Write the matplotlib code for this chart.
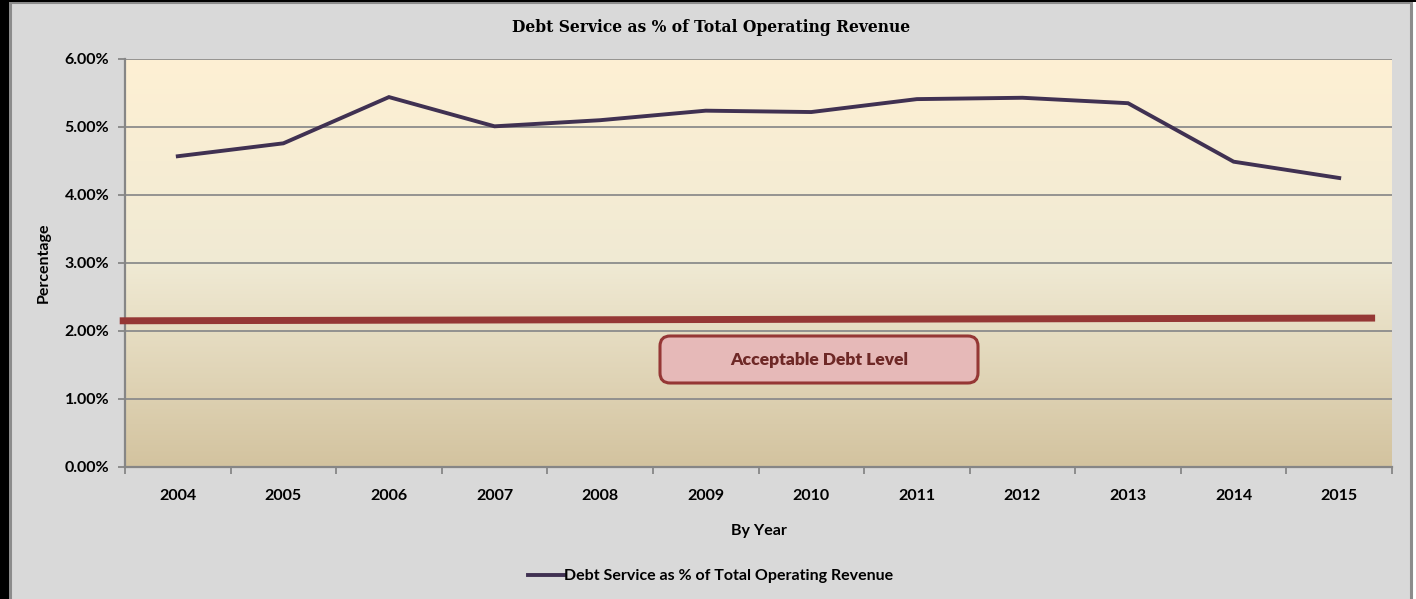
import numpy as np
import matplotlib
matplotlib.use("Agg")
import matplotlib.pyplot as plt
from matplotlib.patches import Rectangle, FancyBboxPatch
from matplotlib.colors import LinearSegmentedColormap
from matplotlib.ticker import FixedLocator, PercentFormatter

YEARS = ["2004", "2005", "2006", "2007", "2008", "2009",
         "2010", "2011", "2012", "2013", "2014", "2015"]
DEBT_PCT = [4.57, 4.76, 5.44, 5.01, 5.10, 5.24,
            5.22, 5.41, 5.43, 5.35, 4.49, 4.25]
# hand-drawn "acceptable" reference line (start, end) in category units / percent
LIMIT_X = [-0.55, 11.34]
LIMIT_Y = [2.15, 2.19]

SANS = ["Lato", "DejaVu Sans"]
plt.rcParams.update({"font.family": SANS, "font.weight": "bold"})

W, H = 1416, 599
fig = plt.figure(figsize=(W / 100, H / 100), dpi=100, facecolor="white")

# chart frame
fig.patches.append(Rectangle((10 / W, -0.01), 1401 / W, 1 - 1.5 / H + 0.01,
                             transform=fig.transFigure, facecolor="#D9D9D9",
                             edgecolor="#8C8C8C", lw=2.2, zorder=-2))
fig.patches.append(Rectangle((0, 0), 9 / W, 1, transform=fig.transFigure,
                             facecolor="black", lw=0, zorder=-1))
fig.patches.append(Rectangle((0, 1 - 2 / H), 1, 2 / H, transform=fig.transFigure,
                             facecolor="black", lw=0, zorder=-1))

L, R, T, B = 125, 1392, 59, 467
ax = fig.add_axes([L / W, 1 - B / H, (R - L) / W, (B - T) / H])
ax.set_zorder(2)
ax.set_facecolor("none")

# vertical gradient fill of the plot area
grad = LinearSegmentedColormap.from_list(
    "bg", [(0.0, "#D3C39F"), (0.5, "#F0EAD4"), (1.0, "#FEF0D3")])
ax.imshow(np.linspace(0, 1, 256).reshape(-1, 1), cmap=grad, aspect="auto",
          origin="lower", extent=(0, 1, 0, 1), transform=ax.transAxes, zorder=0)

x = np.arange(len(YEARS))
ax.set_xlim(-0.5, len(YEARS) - 0.5)
ax.set_ylim(0, 6)
ax.yaxis.set_major_locator(FixedLocator(range(7)))
ax.yaxis.set_major_formatter(PercentFormatter(decimals=2))
ax.grid(axis="y", color="#8C8C8C", lw=1.3, zorder=1)
ax.set_axisbelow(True)

ax.plot(x, DEBT_PCT, color="#403152", lw=2.8, solid_joinstyle="miter", zorder=4)
ax.plot(LIMIT_X, LIMIT_Y, color="#953735", lw=5, solid_capstyle="butt",
        clip_on=False, zorder=3)

# label box
bx, bw = (660 - L) / (R - L), 318 / (R - L)
by, bh = (B - 383) / (B - T), 47 / (B - T)
ax.add_patch(FancyBboxPatch((bx, by), bw, bh, transform=ax.transAxes,
                            boxstyle="round,pad=0,rounding_size=0.008",
                            mutation_aspect=(R - L) / (B - T),
                            facecolor="#E6B9B8", edgecolor="#953735",
                            lw=2.2, zorder=5))
ax.text(bx + bw / 2, by + bh / 2, "Acceptable Debt Level", transform=ax.transAxes,
        ha="center", va="center", fontsize=12.6, color="#6E2826",
        fontweight="heavy", zorder=6)

for s in ["top", "right"]:
    ax.spines[s].set_visible(False)
for s in ["left", "bottom"]:
    ax.spines[s].set_color("#868686")
    ax.spines[s].set_linewidth(1.6)

ax.set_xticks(np.arange(-0.5, len(YEARS)))
ax.set_xticklabels([])
ax.set_xticks(x, minor=True)
ax.set_xticklabels(YEARS, minor=True)
ax.tick_params(axis="x", which="major", length=5, width=1.3, color="#868686")
ax.tick_params(axis="x", which="minor", length=0, pad=16, labelsize=11.5)
ax.tick_params(axis="y", length=5, width=1.3, color="#868686", labelsize=11.5,
               pad=6.4)

ax.set_xlabel("By Year", fontsize=11.5, fontweight="bold", labelpad=15)
ax.set_ylabel("Percentage", fontsize=11.5, fontweight="bold", labelpad=10)

fig.text(711 / W, 1 - 27 / H, "Debt Service as % of Total Operating Revenue",
         ha="center", va="center", fontsize=11.2, fontweight="bold",
         family=["DejaVu Serif"])

leg = fig.legend([plt.Line2D([], [], color="#403152", lw=2.8)],
                 ["Debt Service as % of Total Operating Revenue"],
                 loc="center", bbox_to_anchor=(711 / W, 1 - 576 / H),
                 frameon=False, fontsize=11.5, handlelength=2.2,
                 handletextpad=0.05)

fig.savefig("out.png", dpi=100)
